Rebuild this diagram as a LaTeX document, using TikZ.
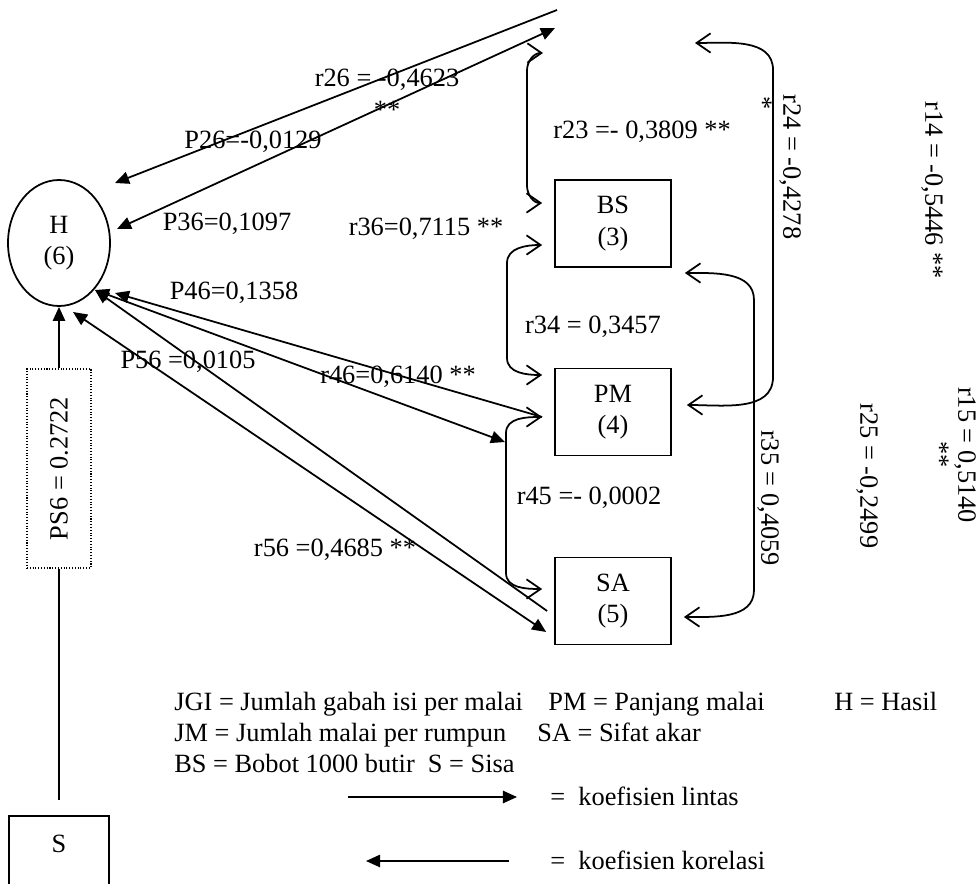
\documentclass[tikz,border=0pt]{standalone}
\usepackage{fontspec}
\setmainfont{Liberation Serif}
\usetikzlibrary{calc,arrows.meta,shapes.geometric}

\tikzset{
  segitiga/.tip={Triangle[length=8pt,width=7pt]},
  kait/.tip={Straight Barb[length=8pt,width=11pt]},
  garis/.style={line width=1pt},
  lintas/.style={garis,-{segitiga}},
  korelasi/.style={garis,{kait}-{kait}},
  kotak/.style={draw,line width=1pt,minimum width=2.32cm,minimum height=1.74cm,align=center},
  teks/.style={inner sep=0pt},
  tegak/.style={inner sep=0pt,rotate=-90}
}

\begin{document}
\begin{tikzpicture}[every node/.style={font=\fontsize{15}{18}\selectfont}]
	\useasboundingbox (0,0) rectangle (19.6,17.66);
	%%%%% SIMPUL %%%%%
	\node[draw,ellipse,garis,minimum width=2.04cm,minimum height=2.52cm,align=center] (H) at (1.18,12.8) {H\\(6)};
	\node[kotak] (BS) at (12.26,13.19) {BS\\(3)};
	\node[kotak] (PM) at (12.26,9.42) {PM\\(4)};
	\node[kotak] (SA) at (12.26,5.64) {SA\\(5)};
	\node[draw,densely dotted,line width=0.6pt,minimum width=1.28cm,minimum height=3.98cm] (PS) at (1.18,8.29) {\rotatebox{90}{PS6 = 0.2722}};
	\node[draw,garis,anchor=north,minimum width=2cm,inner ysep=0.39cm,text depth=1.5cm] (S) at (1.18,1.36) {S};
	
	%%%%% UJUNG GARIS %%%%%
	\coordinate (t1) at (11.14,17.46);
	\coordinate (t2) at (11.1,17.1);
	\coordinate (h1) at (2.30,14.0);
	\coordinate (h2) at (2.34,13.08);
	\coordinate (h3) at (2.30,11.8);
	\coordinate (h4) at (1.90,11.86);
	\coordinate (h5) at (1.46,11.42);
	\coordinate (r4) at ($(PM.west)+(-0.24,-0.1)$);
	\coordinate (r45) at (10.10,8.82);
	\coordinate (s1) at ($(SA.west)+(-0.14,-0.2)$);
	\coordinate (s2) at ($(SA.west)+(-0.16,-0.62)$);
	
	%%%%% KOEFISIEN LINTAS DAN KORELASI KE H %%%%%
	\draw[lintas] (t1) -- (h1);
	\draw[garis,{segitiga}-{segitiga}] (t2) -- (h2);
	\draw[lintas] (r4) -- (h3);
	\draw[garis,{segitiga}-{segitiga}] (h4) -- (r45);
	\draw[lintas] (s1) -- (h4);
	\draw[garis,{segitiga}-{segitiga}] (h5) -- (s2);
	\draw[garis] ($(S.north)+(0,0.3)$) -- (PS.south);
	\draw[lintas] (PS.north) -- (H.south);
	
	%%%%% KORELASI ANTAR PEUBAH %%%%%
	\draw[korelasi] (10.86,16.6) to[out=180,in=90] (10.54,16.25) -- (10.54,13.95) to[out=-90,in=180] ($(BS.west)+(-0.24,0.41)$);
	\draw[korelasi] ($(BS.west)+(-0.24,-0.43)$) to[out=180,in=90] (10.14,12.4) -- (10.14,10.5) to[out=-90,in=180] ($(PM.west)+(-0.24,0.74)$);
	\draw[korelasi] (r4) to[out=180,in=90] (10.12,9.0) -- (10.12,6.2) to[out=-90,in=180] ($(SA.west)+(-0.24,0.24)$);
	\draw[korelasi] ($(BS.east)+(0.26,-0.99)$) to[out=0,in=90] (15.08,11.66) -- (15.08,5.86) to[out=-90,in=0] ($(SA.east)+(0.24,-0.32)$);
	\draw[korelasi] (13.9,16.8) to[out=0,in=90] (15.46,16.26) -- (15.46,10.12) to[out=-90,in=0] ($(PM.east)+(0.3,0.14)$);
	
	%%%%% LABEL %%%%%
	\node[teks,align=center] (lr26) at (7.74,15.79) {r26 = -0,4623\\**};
	\node[teks] (lp26) at (5.06,14.82) {P26=-0,0129};
	\node[teks] (lp36) at (4.54,13.18) {P36=0,1097};
	\node[teks] (lr36) at (8.52,13.08) {r36=0,7115 **};
	\node[teks] (lr23) at (12.84,15.02) {r23 =- 0,3809 **};
	\node[teks] (lp46) at (4.68,11.8) {P46=0,1358};
	\node[teks] (lp56) at (3.76,10.42) {P56 =0,0105};
	\node[teks] (lr46) at (7.96,10.12) {r46=0,6140 **};
	\node[teks] (lr34) at (11.86,11.12) {r34 = 0,3457};
	\node[teks] (lr45) at (11.78,7.7) {r45 =- 0,0002};
	\node[teks] (lr56) at (6.7,6.66) {r56 =0,4685 **};
	\node[tegak] (lr24) at (15.8,14.32) {r24 = -0,4278};
	\node[tegak] (lb24) at (15.26,15.6) {*};
	\node[tegak] (lr14) at (18.64,13.86) {r14 = -0,5446 **};
	\node[tegak] (lr25) at (17.34,8.14) {r25 = -0,2499};
	\node[tegak] (lr15) at (19.3,8.56) {r15 = 0,5140};
	\node[tegak] (lb15) at (18.8,8.56) {**};
	\node[tegak] (lr35) at (15.36,7.7) {r35 = 0,4059};
	
	%%%%% KETERANGAN %%%%%
	\node[teks,anchor=base west] (k1a) at (3.48,3.46) {JGI = Jumlah gabah isi per malai};
	\node[teks,anchor=base west] (k1b) at (10.96,3.46) {PM = Panjang malai};
	\node[teks,anchor=base west] (k1c) at (16.68,3.46) {H = Hasil};
	\node[teks,anchor=base west] (k2a) at (3.48,2.84) {JM = Jumlah malai per rumpun};
	\node[teks,anchor=base west] (k2b) at (10.74,2.84) {SA = Sifat akar};
	\node[teks,anchor=base west] (k3a) at (3.48,2.22) {BS = Bobot 1000 butir\ \ S = Sisa};
	\coordinate (a1) at (6.96,1.72);
	\coordinate (a2) at (10.34,1.72);
	\coordinate (a3) at (10.18,0.44);
	\coordinate (a4) at (7.32,0.44);
	\draw[lintas] (a1) -- (a2);
	\draw[lintas] (a3) -- (a4);
	\node[teks,anchor=base west] (k4) at (11.0,1.56) {=\ \ koefisien lintas};
	\node[teks,anchor=base west] (k5) at (11.0,0.28) {=\ \ koefisien korelasi};
\end{tikzpicture}
\end{document}
